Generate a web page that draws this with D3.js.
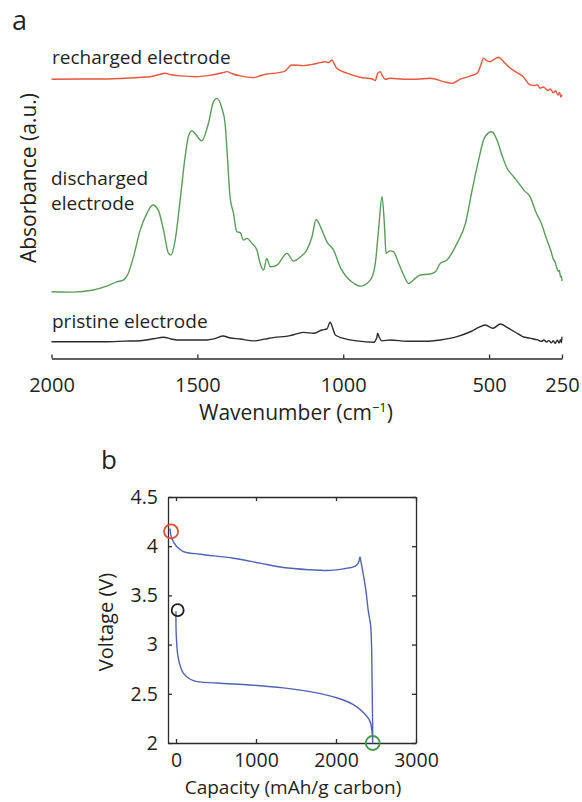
<!DOCTYPE html>
<html>
<head>
<meta charset="utf-8">
<script src="https://cdn.jsdelivr.net/npm/d3@7"></script>
<style>
  body { margin: 0; background: #fff; }
  text { font-family: "Open Sans", "Noto Sans", sans-serif; fill: #231f20; }
</style>
</head>
<body>
<svg id="fig" width="582" height="802"></svg>
<script>
// ---- panel a : FTIR spectra  [wavenumber cm-1, absorbance a.u. above own baseline]
var recharged = [[2000,0],[1900,0.1],[1811,0.15],[1700,0.9],[1662,1.3],[1630,2.4],[1611,3.1],[1590,2.3],[1559,1.7],
  [1502,1.3],[1460,2.0],[1433,2.7],[1410,3.5],[1399,3.9],[1380,2.8],[1353,1.7],[1308,0.8],[1285,1.8],[1262,2.7],
  [1240,3.0],[1222,3.4],[1200,4.2],[1176,7.3],[1136,7.0],[1100,7.8],[1079,8.5],[1062,9.0],[1050,8.5],[1039,9.9],
  [1030,7.6],[1022,5.6],[987,3.1],[942,1.0],[900,0.1],[890,-0.7],[882,3.1],[873,3.9],[865,1.5],[856,0],[839,0.5],
  [793,0],[747,0],[702,0.5],[656,-1.2],[627,-2.1],[599,0],[564,1.7],[541,3.1],[530,6.5],[519,10.8],[508,9.5],
  [496,9.0],[480,10.5],[467,11.3],[458,10.2],[450,9.0],[427,5.6],[410,3.9],[385,1.5],[359,-2.9],[345,-3.2],
  [335,-2.8],[325,-4.6],[315,-4.0],[308,-4.6],[298,-5.8],[290,-5.0],[280,-6.9],[272,-5.9],[264,-8.1],[258,-6.8],
  [254,-9.2],[250,-8.0]];

var discharged = [[2000,0],[1925,-0.2],[1857,0.9],[1811,2.9],[1776,5.1],[1754,6.0],[1737,9.4],[1719,17.9],[1696,31.6],
  [1673,40.2],[1653,44.5],[1634,41.9],[1616,31.6],[1599,19.7],[1591,18.8],[1576,26.5],[1559,47.0],[1542,69.2],
  [1531,79.5],[1519,82.6],[1508,81.2],[1485,77.4],[1462,86.4],[1445,97.4],[1433,99.2],[1416,94.1],[1405,86.4],
  [1397,69.2],[1388,48.7],[1376,40.2],[1365,30.8],[1353,30.3],[1342,26.5],[1330,27.4],[1313,24.8],[1296,21.4],
  [1285,14.6],[1273,11.1],[1262,17.1],[1250,12.8],[1227,13.7],[1193,19.7],[1170,15.7],[1147,17.9],[1125,21.4],
  [1107,28.2],[1093,37.1],[1073,31.6],[1056,25.6],[1033,21.4],[1010,12.5],[987,7.3],[965,4.5],[942,2.9],[907,6.0],
  [890,14.6],[879,31.6],[867,48.7],[859,35.1],[853,19.7],[839,21.0],[827,20.5],[810,14.6],[793,8.6],[776,4.3],
  [753,6.9],[736,8.6],[702,9.1],[684,10.3],[667,14.6],[644,16.3],[610,24.8],[581,35.1],[558,52.2],[536,67.5],
  [519,77.8],[502,81.5],[490,82.1],[473,77.8],[456,70.1],[438,63.3],[416,59.0],[400,56],[380,52],[359,48.7],
  [340,41],[321,35.1],[305,28],[289,21.4],[279,16.5],[273,15],[269,12.8],[263,10.5],[259,11],[255,7.5],[252,8],[250,5.5]];

var pristine = [[2000,0],[1900,0],[1811,0],[1750,0.3],[1696,0.5],[1650,1.5],[1616,2.3],[1590,1.4],[1570,0.9],[1468,0.9],
  [1440,1.6],[1411,2.9],[1390,2.0],[1353,1.4],[1308,0.4],[1270,1.3],[1239,2.1],[1182,3.1],[1160,4.0],[1136,4.8],
  [1102,4.3],[1073,6.0],[1056,6.5],[1045,10],[1035,6.5],[1027,3.4],[999,1.7],[953,0.4],[896,-0.3],[885,2],[882,4.3],
  [876,2],[867,0.4],[839,0.9],[781,0.2],[720,0.2],[667,0.9],[610,2.6],[564,5.1],[530,7.7],[513,8.6],[487,6.9],
  [461,9.1],[440,7.5],[423,6.0],[400,4],[385,2.6],[360,1.8],[333,0.9],[320,0.2],[312,0.9],[303,-0.2],[295,0.7],
  [287,-0.6],[280,0.5],[273,-0.9],[266,0.8],[260,-0.7],[255,1.0],[252,-0.5],[250,2.5]];

var spectraNames = ["recharged electrode", "discharged electrode", "pristine electrode"];
var spectraOffsets = [134.6, 25.6, 0];   // vertical stacking, a.u.
var wnTicks = [2000, 1500, 1000, 500, 250];

// ---- panel b : voltage profile [capacity mAh/g carbon, voltage V]
var voltageCurve = [[0,3.34],[3,3.10],[29,2.86],[92,2.71],[217,2.634],[508,2.61],[925,2.59],[1342,2.56],[1758,2.51],
  [2008,2.46],[2217,2.39],[2342,2.31],[2425,2.22],[2452,2.10],[2460,2.0],
  [2456,2.3],[2450,2.7],[2444,3.0],[2432,3.2],[2404,3.34],[2375,3.54],[2342,3.71],[2312,3.84],[2300,3.89],
  [2285,3.84],[2260,3.81],[2217,3.79],[2092,3.77],[1883,3.753],[1675,3.76],[1342,3.783],[1050,3.828],[717,3.878],
  [300,3.918],[92,3.945],[8,3.996],[-54,4.08],[-75,4.18]];
var stateMarks = [[-62, 4.15], [21, 3.35], [2459, 2.0]];
var stateColors = ["#e2502f", "#1e1e1e", "#3f9a45"];
var capTicks = [0, 1000, 2000, 3000];
var voltTicks = [2, 2.5, 3, 3.5, 4, 4.5];

var spectraColors = ["#e8573a", "#5a9c5a", "#2e2a2a"];
var ink = "#2b2b2b";

var svg = d3.select("#fig");

// ================= panel a
var xA = d3.scaleLinear().domain([2000, 250]).range([51.5, 562]);
var yA = d3.scaleLinear().domain([0, 100]).range([341.7, 146.7]);

[recharged, discharged, pristine].forEach(function(s, i) {
  var line = d3.line()
    .x(function(d) { return xA(d[0]); })
    .y(function(d) { return yA(d[1] + spectraOffsets[i]); })
    .curve(d3.curveMonotoneX);
  svg.append("path").datum(s)
    .attr("d", line)
    .attr("fill", "none")
    .attr("stroke", spectraColors[i])
    .attr("stroke-width", 1.4)
    .attr("stroke-linejoin", "round");
});

var axA = svg.append("g")
  .attr("transform", "translate(0,358.5)")
  .call(d3.axisBottom(xA).tickValues(wnTicks).tickFormat(d3.format("d"))
    .tickSizeInner(-4).tickSizeOuter(0).tickPadding(19));
axA.selectAll("path,line").attr("stroke", ink).attr("stroke-width", 1.3);
axA.selectAll("text").attr("font-size", 20).attr("font-family", "Open Sans").attr("fill", "#231f20");

svg.append("text").attr("x", 12).attr("y", 30).attr("font-size", 27).text("a");

svg.append("text").attr("x", 52).attr("y", 64).attr("font-size", 19).text(spectraNames[0]);
svg.append("text").attr("x", 51).attr("y", 185).attr("font-size", 19).text("discharged");
svg.append("text").attr("x", 51).attr("y", 210).attr("font-size", 19).text("electrode");
svg.append("text").attr("x", 52).attr("y", 328).attr("font-size", 19).text(spectraNames[2]);

svg.append("text")
  .attr("transform", "translate(36,178) rotate(-90)")
  .attr("text-anchor", "middle").attr("font-size", 21)
  .text("Absorbance (a.u.)");

var wl = svg.append("text").attr("x", 296).attr("y", 420)
  .attr("text-anchor", "middle").attr("font-size", 21);
wl.append("tspan").text("Wavenumber (cm");
wl.append("tspan").attr("font-size", 13).attr("dy", -8).text("\u22121");
wl.append("tspan").attr("dy", 8).text(")");

// ================= panel b
var xB = d3.scaleLinear().domain([-100, 3000]).range([168, 416]);
var yB = d3.scaleLinear().domain([2, 4.5]).range([743, 497]);

function styleAxis(g, showText) {
  g.selectAll("path,line").attr("stroke", ink).attr("stroke-width", 1.3);
  g.selectAll("text").attr("font-size", 19.5).attr("font-family", "Open Sans").attr("fill", "#231f20");
  if (!showText) g.selectAll("text").remove();
}
styleAxis(svg.append("g").attr("transform", "translate(0,743)")
  .call(d3.axisBottom(xB).tickValues(capTicks).tickFormat(d3.format("d")).tickSizeInner(-4).tickSizeOuter(0).tickPadding(10)), true);
styleAxis(svg.append("g").attr("transform", "translate(0,497)")
  .call(d3.axisTop(xB).tickValues(capTicks).tickSizeInner(-4).tickSizeOuter(0)), false);
styleAxis(svg.append("g").attr("transform", "translate(168,0)")
  .call(d3.axisLeft(yB).tickValues(voltTicks).tickFormat(d3.format("~g")).tickSizeInner(-4).tickSizeOuter(0).tickPadding(10)), true);
styleAxis(svg.append("g").attr("transform", "translate(416,0)")
  .call(d3.axisRight(yB).tickValues(voltTicks).tickSizeInner(-4).tickSizeOuter(0)), false);

svg.append("path").datum(voltageCurve)
  .attr("d", d3.line()
    .x(function(d) { return xB(d[0]); })
    .y(function(d) { return yB(d[1]); })
    .curve(d3.curveCatmullRom.alpha(0.5)))
  .attr("fill", "none")
  .attr("stroke", "#4f64b4")
  .attr("stroke-width", 1.4);

svg.selectAll("circle.state").data(stateMarks).enter().append("circle")
  .attr("class", "state")
  .attr("cx", function(d) { return xB(d[0]); })
  .attr("cy", function(d) { return yB(d[1]); })
  .attr("r", function(d, i) { return i == 1 ? 6 : 7; })
  .attr("fill", "none")
  .attr("stroke", function(d, i) { return stateColors[i]; })
  .attr("stroke-width", 1.8);

svg.append("text").attr("x", 101).attr("y", 469).attr("font-size", 26).text("b");

svg.append("text")
  .attr("transform", "translate(113,622) rotate(-90)")
  .attr("text-anchor", "middle").attr("font-size", 20)
  .text("Voltage (V)");

svg.append("text").attr("x", 293).attr("y", 794)
  .attr("text-anchor", "middle").attr("font-size", 19)
  .text("Capacity (mAh/g carbon)");
</script>
</body>
</html>
